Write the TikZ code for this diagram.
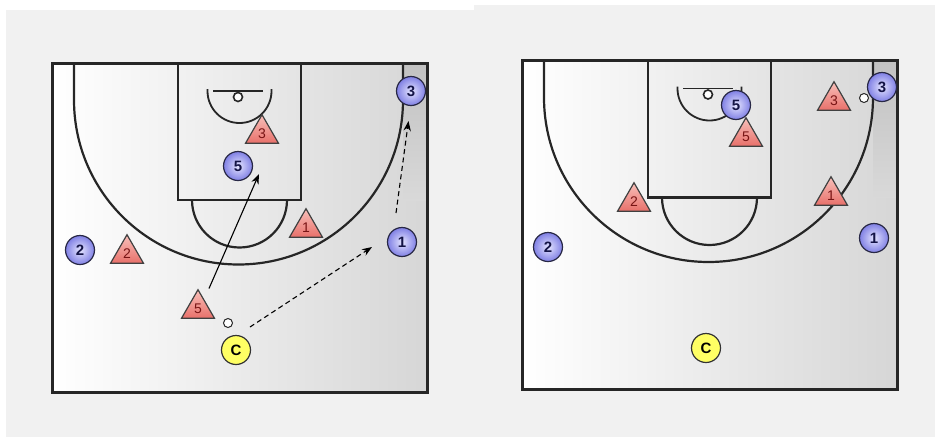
\documentclass[tikz,border=0pt]{standalone}
\usepackage{fontspec}
\setmainfont{Liberation Sans}
\usetikzlibrary{shapes.geometric,arrows.meta}
\definecolor{bgc}{RGB}{241,241,241}
\definecolor{pin}{RGB}{228,228,255}
\definecolor{pout}{RGB}{128,128,228}
\definecolor{pline}{RGB}{40,40,70}
\definecolor{pnum}{RGB}{20,20,70}
\definecolor{dtop}{RGB}{248,192,186}
\definecolor{dbot}{RGB}{232,112,106}
\definecolor{dnum}{RGB}{120,20,20}
\definecolor{cyel}{RGB}{255,255,100}
\begin{document}
\begin{tikzpicture}[x=1pt,y=-1pt,
 off/.style={circle, draw=pline, line width=1.2pt, inner color=pin, outer color=pout, minimum size=29pt, inner sep=0pt, font=\bfseries\fontsize{15}{15}\selectfont, text=pnum},
 def/.style={regular polygon, regular polygon sides=3, draw=black!75, line width=1.2pt, top color=dtop, bottom color=dbot, minimum size=38pt, inner sep=0pt, font=\fontsize{14}{14}\selectfont, text=dnum},
 coach/.style={circle, draw=black!80, line width=1.2pt, fill=cyel, minimum size=29pt, inner sep=0pt, font=\bfseries\fontsize{15}{15}\selectfont},
 ballc/.style={circle, draw=black!85, line width=1pt, fill=white, minimum size=9pt, inner sep=0pt},
 courtline/.style={line width=2.2pt, draw=black!85},
 move/.style={line width=1.1pt, -{Stealth[length=10pt,width=7.5pt]}},
 pass/.style={move, dash pattern=on 5pt off 3.5pt},
 court/.pic={
  \shade[left color=white, right color=black!16] (52,63) rectangle (427,392);
  \shade[top color=black!24, bottom color=black!15] (403,63) rectangle (427,200);
  \draw[courtline] (74,63) -- (74,100) arc[start angle=180,end angle=0,radius=164.5] -- (403,63);
  \draw[courtline] (178,63) rectangle (301,200);
  \draw[courtline] (192,200) arc[start angle=180,end angle=0,radius=47.5];
  \draw[courtline, line width=1.8pt] (207.5,89) -- (207.5,91) arc[start angle=180,end angle=0,radius=32] -- (271.5,89);
  \draw[courtline, line width=1.8pt] (213,91) -- (263,91);
  \draw[courtline, line width=1.6pt, fill=white] (238,97) circle[radius=4.5];
  \draw[line width=3pt, black!85] (52,63) rectangle (427,392);
 }]
\useasboundingbox (0,0) rectangle (935,437);
\fill[white] (0,0) rectangle (935,437);
\fill[bgc] (6,10) rectangle (474,437);
\fill[bgc] (474,5) rectangle (935,437);

% left court
\pic at (0,0) {court};
\node[off] (a3) at (411,91) {3};
\node[def] (d3) at (262,133.7) {3};
\node[off] (a5) at (238,166) {5};
\node[def] (d1) at (306,227.7) {1};
\node[off] (a1) at (402,242) {1};
\node[off] (a2) at (80,250) {2};
\node[def] (d2) at (127,253.7) {2};
\node[def] (d5) at (198,308.7) {5};
\node[ballc] (b) at (228,323) {};
\node[coach] (c) at (236,350) {C};
\coordinate (m5s) at (209,288.5);
\coordinate (m5e) at (259,174);
\coordinate (p1s) at (250,327);
\coordinate (p1e) at (372,247);
\coordinate (c1s) at (396,213);
\coordinate (c1e) at (408.5,121);
\draw[move] (m5s) -- (m5e);
\draw[pass] (p1s) -- (p1e);
\draw[pass] (c1s) -- (c1e);

% right court
\begin{scope}[shift={(470,-2.5)}]
\pic at (0,0) {court};
\node[ballc] (rb) at (394,100.5) {};
\node[off] (r3) at (412,89.5) {3};
\node[def] (rd3) at (364,103.2) {3};
\node[def] (rd5) at (276,139.2) {5};
\node[off] (r5) at (266,107.5) {5};
\node[def] (rd2) at (164,204.2) {2};
\node[def] (rd1) at (361,198.2) {1};
\node[off] (r1) at (404,240.5) {1};
\node[off] (r2) at (78,249.5) {2};
\node[coach] (rc) at (236,350.5) {C};
\end{scope}
\end{tikzpicture}
\end{document}
